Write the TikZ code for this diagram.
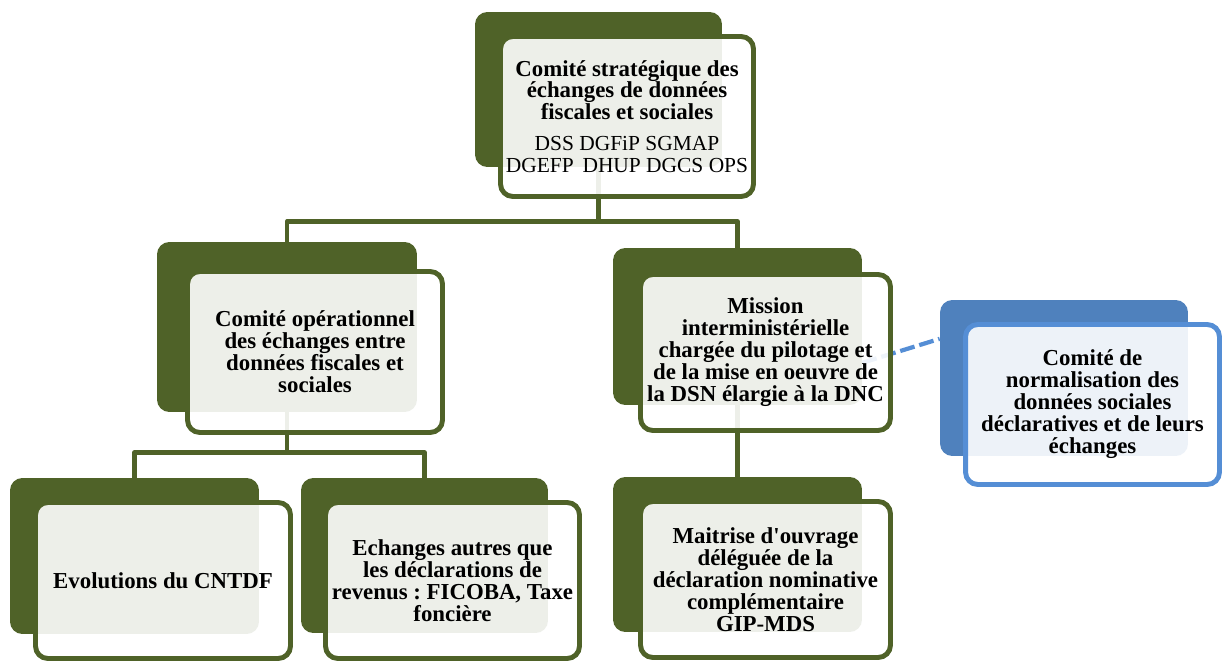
\documentclass[tikz,border=0pt]{standalone}
\usepackage{fontspec}
\setmainfont{Liberation Serif}
\usetikzlibrary{calc}
\definecolor{olivedark}{HTML}{4F6228}
\definecolor{backblue}{HTML}{4F81BD}
\definecolor{lineblue}{HTML}{558ED5}
\newcommand\orgline{\fontsize{12.2}{12.5}\selectfont\mdseries}

\begin{document}
\frenchspacing
\begin{tikzpicture}[x=0.02cm, y=-0.02cm,
    back/.style={rounded corners=7pt, inner sep=0pt},
    front/.style={draw=olivedark, line width=2.8pt, fill=white, fill opacity=0.9, text opacity=1,
      rounded corners=7pt, align=center, inner sep=0pt,
      font=\fontsize{13}{12.5}\selectfont\bfseries},
    frontblue/.style={front, draw=lineblue},
    link/.style={olivedark, line width=2.5pt, line join=round},
    dashlink/.style={lineblue, line width=2.4pt, dash pattern=on 8.5pt off 2.8pt}]
  \useasboundingbox (0,0) rectangle (1223,661);
  % back boxes
  \foreach \n/\col/\x/\y/\w/\h in {topB/olivedark/598.5/89.5/4.94/3.10,
      midLB/olivedark/287/327/5.20/3.40, midRB/olivedark/737.5/326.5/4.98/3.14,
      normB/backblue/1064/378/4.96/3.12, cntB/olivedark/134.5/556/4.98/3.12,
      ficB/olivedark/424.5/555.5/4.94/3.10, gipB/olivedark/737.5/554.5/4.98/3.10}
    \node[back, fill=\col, minimum width=\w cm, minimum height=\h cm] (\n) at (\x,\y) {};
  % connectors
  \draw[link] (topB.south) -- ++(0,54) coordinate (t1) -| (midLB.north) (t1) -| (midRB.north);
  \draw[link] (midLB.south) -- ++(0,40) coordinate (m1) -| (cntB.north) (m1) -| (ficB.north);
  \draw[link] (midRB.south) -- (gipB.north);
  \draw[dashlink] ($(midRB.north east)!0.73!(midRB.south east)$) -- ($(normB.north west)!0.25!(normB.south west)$);
  % front boxes
  \node[front, minimum width=5.06cm, minimum height=3.20cm] (topF) at (627,116.5)
    {Comité stratégique des\\échanges de données\\fiscales et sociales\\[5pt]\orgline DSS DGFiP SGMAP\\\orgline DGEFP\hspace{5pt}DHUP DGCS OPS};
  \node[front, minimum width=5.10cm, minimum height=3.22cm] (midLF) at (315,352)
    {Comité opérationnel\\des échanges entre\\données fiscales et\\sociales};
  \node[front, minimum width=5.00cm, minimum height=3.12cm] (midRF) at (765.5,352.5)
    {Mission\\interministérielle\\chargée du pilotage et\\de la mise en oeuvre de\\la DSN élargie à la DNC};
  \node[frontblue, minimum width=5.08cm, minimum height=3.20cm] (normF) at (1092.5,404.5)
    {Comité de\\normalisation des\\données sociales\\déclaratives et de leurs\\échanges};
  \node[front, minimum width=5.10cm, minimum height=3.12cm] (cntF) at (163,580.5)
    {Evolutions du CNTDF};
  \node[front, minimum width=5.08cm, minimum height=3.12cm] (ficF) at (452.5,580.5)
    {Echanges autres que\\les déclarations de\\revenus : FICOBA, Taxe\\foncière};
  \node[front, minimum width=5.00cm, minimum height=3.12cm] (gipF) at (765.5,579.5)
    {Maitrise d\textquotesingle ouvrage\\déléguée de la\\déclaration nominative\\complémentaire\\GIP-MDS};
\end{tikzpicture}
\end{document}
